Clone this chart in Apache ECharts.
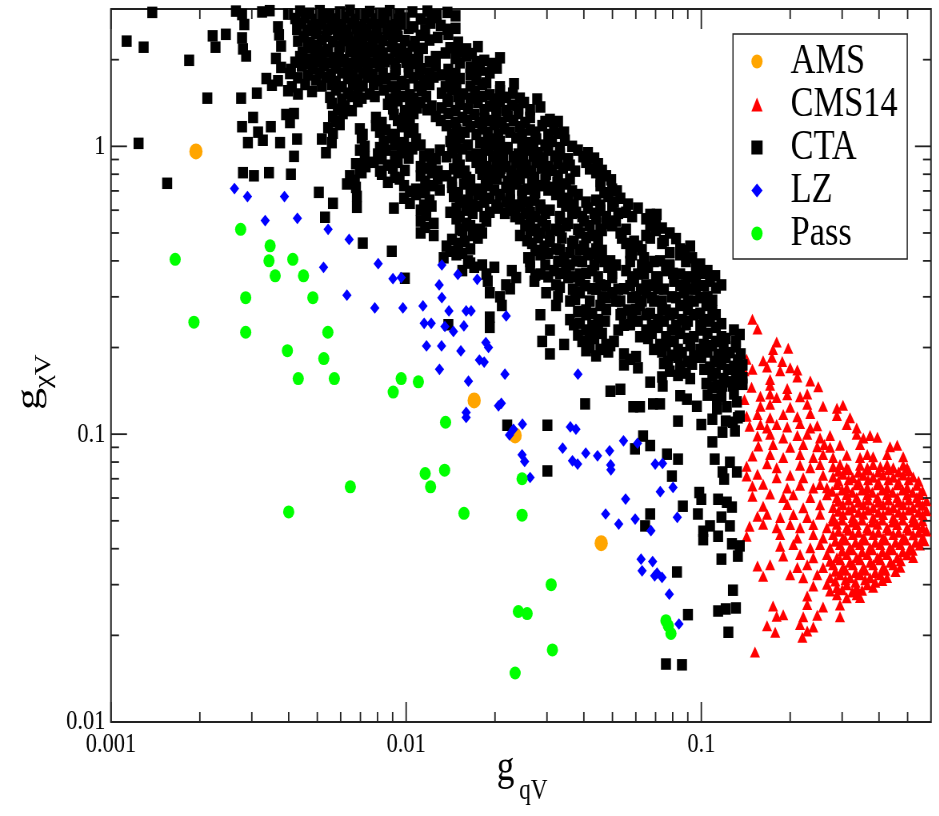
<!DOCTYPE html>
<html>
<head>
<meta charset="utf-8">
<script src="https://cdn.jsdelivr.net/npm/echarts@6/dist/echarts.min.js"></script>
<style>
  html, body { margin: 0; padding: 0; background: #fff; overflow: hidden; }
  #wrap { width: 939px; height: 816px; overflow: hidden; }
  /* the figure is laid out wide and condensed horizontally, like the exported plot */
  #chart { width: 1174px; height: 816px; transform: scaleX(0.8); transform-origin: 0 0; }
</style>
</head>
<body>
<div id="wrap"><div id="chart"></div></div>
<script>
// ---- axis ranges and ticks ---------------------------------------------
const xRange = [0.001, 0.6];
const yRange = [0.01, 3];
const xMajor = [0.001, 0.01, 0.1];
const xMinor = [0.002, 0.003, 0.004, 0.005, 0.006, 0.007, 0.008, 0.009,
                0.02, 0.03, 0.04, 0.05, 0.06, 0.07, 0.08, 0.09,
                0.2, 0.3, 0.4, 0.5];
const xTickLabels = ['0.001', '0.01', '0.1'];
const yMajor = [0.01, 0.1, 1];
const yMinor = [0.02, 0.03, 0.04, 0.05, 0.06, 0.07, 0.08, 0.09,
                0.2, 0.3, 0.4, 0.5, 0.6, 0.7, 0.8, 0.9, 2];
const yTickLabels = ['0.01', '0.1', '1'];

// ---- scan points: [g_qV, g_chiV] --------------------------------------
const amsPts = [[0.00194, 0.96], [0.017, 0.131], [0.0234, 0.099], [0.0458, 0.0418]];

const passPts = [
  [0.00275, 0.515], [0.00346, 0.451], [0.00165, 0.405], [0.00343, 0.400], [0.00413, 0.405],
  [0.0036, 0.355], [0.00449, 0.355], [0.00286, 0.298], [0.00483, 0.298], [0.00191, 0.245],
  [0.00286, 0.226], [0.00543, 0.226], [0.00396, 0.195], [0.00526, 0.183], [0.00431, 0.156],
  [0.00571, 0.156], [0.00962, 0.156], [0.011, 0.152], [0.00904, 0.14], [0.0136, 0.11],
  [0.0116, 0.073], [0.0135, 0.075], [0.0121, 0.0656], [0.00647, 0.0656], [0.004, 0.0537],
  [0.0157, 0.0531], [0.0247, 0.07], [0.0247, 0.0523], [0.031, 0.03], [0.024, 0.0242],
  [0.0257, 0.0238], [0.0313, 0.0178], [0.0234, 0.0148], [0.0759, 0.0225], [0.0773, 0.0216],
  [0.0789, 0.0203]
];

const lzPts = [
  [0.00262, 0.713], [0.0029, 0.669], [0.00387, 0.669], [0.00333, 0.552], [0.00428, 0.562],
  [0.00544, 0.515], [0.00641, 0.475], [0.00525, 0.38], [0.00804, 0.391], [0.00902, 0.347],
  [0.00962, 0.35], [0.01321, 0.387], [0.01497, 0.359], [0.01741, 0.345], [0.01294, 0.33],
  [0.0063, 0.304], [0.01321, 0.298], [0.00783, 0.2745], [0.00975, 0.2745], [0.0114, 0.279],
  [0.01396, 0.268], [0.01597, 0.268], [0.0166, 0.268], [0.01151, 0.2428], [0.01216, 0.2428],
  [0.01353, 0.2366], [0.01446, 0.2274], [0.01569, 0.2377], [0.02183, 0.2575], [0.01172, 0.2026],
  [0.01318, 0.2026], [0.01532, 0.1946], [0.01862, 0.2081], [0.01901, 0.2], [0.01771, 0.181],
  [0.01838, 0.178], [0.01297, 0.168], [0.01626, 0.1528], [0.02161, 0.1616], [0.02055, 0.1254],
  [0.02101, 0.128], [0.01597, 0.119], [0.01597, 0.1143], [0.02239, 0.0994], [0.0231, 0.104],
  [0.0382, 0.1616], [0.02477, 0.1083], [0.036, 0.106], [0.03761, 0.104], [0.0339, 0.0894],
  [0.0247, 0.0848], [0.0252, 0.0804], [0.0366, 0.0808], [0.0381, 0.0787], [0.0406, 0.0859],
  [0.0445, 0.0841], [0.0489, 0.0875], [0.0493, 0.0782], [0.0494, 0.0752], [0.0545, 0.0948],
  [0.0608, 0.093], [0.0263, 0.0707], [0.0698, 0.0787], [0.0739, 0.0791], [0.0726, 0.0631],
  [0.0802, 0.0653], [0.0554, 0.0595], [0.0474, 0.0528], [0.0525, 0.0487], [0.0597, 0.0507],
  [0.0675, 0.0462], [0.0829, 0.0514], [0.0625, 0.0368], [0.0684, 0.0361], [0.063, 0.0335],
  [0.0708, 0.0329], [0.0736, 0.0318], [0.0779, 0.0278], [0.084, 0.0219], [0.0695, 0.0322]
];

const ctaPts = [
  // dense core, top of the frame
  [0.00138, 2.92], [0.00265, 2.95], [0.00278, 2.87], [0.00325, 2.93], [0.00345, 2.96], [0.00398, 2.88],
  [0.00437, 2.95], [0.0047, 2.9], [0.0051, 2.96], [0.0055, 2.87], [0.00596, 2.93], [0.00645, 2.97],
  [0.00697, 2.88], [0.00753, 2.94], [0.00815, 2.9], [0.0088, 2.96], [0.0095, 2.87], [0.0105, 2.93],
  [0.0118, 2.95], [0.0127, 2.86], [0.0138, 2.92], [0.0147, 2.84],
  [0.00421, 2.78], [0.00455, 2.8], [0.00492, 2.76], [0.00531, 2.79], [0.00574, 2.77], [0.0062, 2.8],
  [0.0067, 2.76], [0.00724, 2.79], [0.00783, 2.77], [0.00846, 2.8], [0.00916, 2.76], [0.0099, 2.79],
  [0.0112, 2.77], [0.0122, 2.8],
  [0.00283, 2.65], [0.00368, 2.6], [0.00443, 2.68], [0.0048, 2.62], [0.00518, 2.66], [0.0056, 2.7],
  [0.00606, 2.63], [0.00655, 2.67], [0.00707, 2.6], [0.00765, 2.66], [0.00827, 2.7], [0.00894, 2.62],
  [0.00966, 2.66], [0.0106, 2.6], [0.0121, 2.68], [0.0131, 2.63], [0.0147, 2.57],
  [0.00427, 2.55], [0.00462, 2.53], [0.00499, 2.57], [0.0054, 2.54], [0.00583, 2.56], [0.0063, 2.53],
  [0.00681, 2.57], [0.00735, 2.55], [0.00796, 2.53], [0.0086, 2.56], [0.0093, 2.54], [0.0102, 2.57],
  [0.0116, 2.54], [0.0138, 2.55],
  [0.00221, 2.42], [0.00245, 2.45], [0.00278, 2.38], [0.00371, 2.44], [0.0045, 2.4], [0.00495, 2.46],
  [0.00535, 2.41], [0.00587, 2.44], [0.00635, 2.39], [0.00686, 2.45], [0.00741, 2.42], [0.00802, 2.38],
  [0.00867, 2.45], [0.00937, 2.41], [0.0112, 2.43], [0.0128, 2.39], [0.0139, 2.45],
  [0.0043, 2.32], [0.00472, 2.3], [0.00518, 2.34], [0.00565, 2.31], [0.0061, 2.33], [0.0066, 2.3],
  [0.00713, 2.34], [0.00771, 2.31], [0.00834, 2.33], [0.00902, 2.3], [0.0099, 2.33], [0.0107, 2.31],
  [0.012, 2.34], [0.015, 2.3],
  [0.00113, 2.32], [0.00129, 2.21],
  [0.00226, 2.21], [0.0028, 2.18], [0.00377, 2.23], [0.00465, 2.2], [0.00502, 2.24], [0.00544, 2.17],
  [0.00596, 2.22], [0.00645, 2.19], [0.00697, 2.24], [0.00753, 2.2], [0.00815, 2.16], [0.00894, 2.22],
  [0.00966, 2.18], [0.0105, 2.23], [0.0114, 2.19], [0.0141, 2.2], [0.016, 2.18], [0.0175, 2.22],
  [0.00446, 2.12], [0.00492, 2.1], [0.0054, 2.13], [0.00592, 2.11], [0.0065, 2.13], [0.00702, 2.1],
  [0.00759, 2.13], [0.00834, 2.11], [0.00916, 2.13], [0.0101, 2.1], [0.011, 2.12], [0.0136, 2.11],
  [0.0152, 2.13], [0.0167, 2.1],
  [0.00184, 1.99],
  [0.00287, 2.06], [0.00362, 2.02], [0.00437, 2.05], [0.0048, 2.01], [0.00518, 2.06], [0.0057, 2.03],
  [0.00615, 2.0], [0.00676, 2.05], [0.00729, 2.02], [0.00802, 2.07], [0.0088, 2.01], [0.0095, 2.04],
  [0.0105, 2.0], [0.0126, 2.05], [0.0147, 2.02], [0.016, 2.06], [0.0184, 1.99], [0.0208, 2.03],
  [0.00421, 1.96], [0.00459, 1.94], [0.00502, 1.97], [0.00548, 1.95], [0.00596, 1.97], [0.0065, 1.94],
  [0.00707, 1.97], [0.00771, 1.95], [0.00846, 1.97], [0.00916, 1.94], [0.01, 1.96], [0.011, 1.94],
  [0.012, 1.97], [0.0152, 1.95], [0.0173, 1.97], [0.0195, 1.94],
  [0.00377, 1.88], [0.00407, 1.85], [0.00443, 1.9], [0.00483, 1.86], [0.00527, 1.91], [0.00578, 1.87],
  [0.00635, 1.84], [0.00686, 1.89], [0.00741, 1.86], [0.00815, 1.9], [0.00923, 1.85], [0.0102, 1.89],
  [0.0112, 1.86], [0.0126, 1.9], [0.0139, 1.85], [0.0165, 1.88], [0.0178, 1.84], [0.0203, 1.87],
  [0.00404, 1.79], [0.00465, 1.77], [0.0051, 1.8], [0.00556, 1.78], [0.00606, 1.8], [0.0066, 1.77],
  [0.00713, 1.8], [0.00771, 1.78], [0.00834, 1.8], [0.00916, 1.77], [0.0102, 1.8], [0.0111, 1.78],
  [0.012, 1.8], [0.0132, 1.77], [0.0147, 1.79], [0.0165, 1.78], [0.0192, 1.8],
  [0.00336, 1.72], [0.00368, 1.69], [0.0043, 1.73], [0.00495, 1.7], [0.00535, 1.74], [0.00578, 1.68],
  [0.00635, 1.72], [0.00686, 1.7], [0.00741, 1.74], [0.00802, 1.69], [0.00853, 1.72], [0.00966, 1.68],
  [0.0106, 1.73], [0.0115, 1.7], [0.0124, 1.74], [0.0141, 1.69], [0.0152, 1.72], [0.0173, 1.7],
  [0.0187, 1.66], [0.0232, 1.65],
  [0.00351, 1.63], [0.0041, 1.61], [0.00455, 1.64], [0.00518, 1.62], [0.0056, 1.64], [0.00606, 1.61],
  [0.0066, 1.64], [0.00713, 1.62], [0.00777, 1.64], [0.00894, 1.61], [0.0099, 1.64], [0.011, 1.62],
  [0.012, 1.64], [0.0136, 1.61], [0.0148, 1.63], [0.0165, 1.62], [0.0181, 1.64], [0.0208, 1.61],
  [0.00212, 1.47], [0.00276, 1.47], [0.00312, 1.53], [0.00398, 1.56], [0.0043, 1.52], [0.0048, 1.55],
  [0.00578, 1.57], [0.00635, 1.53], [0.00686, 1.56], [0.00753, 1.52], [0.0084, 1.57], [0.00923, 1.54],
  [0.0103, 1.51], [0.0113, 1.56], [0.0132, 1.53], [0.0143, 1.57], [0.0156, 1.52], [0.0171, 1.55],
  [0.0192, 1.51], [0.0208, 1.56], [0.023, 1.53], [0.0278, 1.46],
  [0.00552, 1.48], [0.00606, 1.46], [0.00655, 1.49], [0.00707, 1.47], [0.00783, 1.49], [0.0088, 1.46],
  [0.00966, 1.49], [0.0106, 1.47], [0.0117, 1.49], [0.0138, 1.46], [0.015, 1.49], [0.0165, 1.47],
  [0.0181, 1.49], [0.0199, 1.46], [0.0218, 1.48], [0.0243, 1.47],
  [0.0056, 1.41], [0.0062, 1.38], [0.00686, 1.43], [0.00867, 1.4], [0.00937, 1.44], [0.0103, 1.39],
  [0.0112, 1.42], [0.0122, 1.38], [0.0139, 1.43], [0.0152, 1.4], [0.0175, 1.42], [0.0192, 1.38],
  [0.0208, 1.43], [0.0228, 1.39], [0.0251, 1.42], [0.0285, 1.37],
  [0.00587, 1.345], [0.00655, 1.33], [0.00902, 1.35], [0.0099, 1.33], [0.0109, 1.36], [0.0118, 1.34],
  [0.0132, 1.36], [0.0147, 1.33], [0.0162, 1.35], [0.0184, 1.34], [0.0202, 1.36], [0.0218, 1.33],
  [0.024, 1.35], [0.0263, 1.34],
  [0.00303, 1.26], [0.00392, 1.29], [0.00417, 1.3], [0.00565, 1.27], [0.0061, 1.3], [0.0079, 1.26],
  [0.00909, 1.29], [0.00984, 1.25], [0.0106, 1.3], [0.0126, 1.27], [0.0139, 1.3], [0.0155, 1.26],
  [0.017, 1.29], [0.0184, 1.25], [0.0202, 1.3], [0.0221, 1.27], [0.024, 1.3], [0.0263, 1.26],
  [0.0307, 1.24], [0.0327, 1.22],
  [0.00578, 1.22], [0.00827, 1.21], [0.00937, 1.23], [0.0103, 1.21], [0.0131, 1.23], [0.0147, 1.21],
  [0.0161, 1.23], [0.0177, 1.21], [0.0192, 1.23], [0.0211, 1.21], [0.0231, 1.23], [0.0253, 1.21],
  [0.0296, 1.22],
  [0.00278, 1.17], [0.00315, 1.12], [0.00348, 1.17], [0.00404, 1.21], [0.00544, 1.16], [0.00596, 1.19],
  [0.00697, 1.15], [0.0079, 1.18], [0.00853, 1.14], [0.00966, 1.17], [0.0106, 1.15], [0.0137, 1.18],
  [0.0148, 1.14], [0.0165, 1.17], [0.0181, 1.15], [0.0199, 1.19], [0.0215, 1.15], [0.0243, 1.17],
  [0.0263, 1.14], [0.0289, 1.18], [0.0317, 1.14], [0.0343, 1.12],
  [0.00565, 1.11], [0.00713, 1.1], [0.00815, 1.12], [0.00916, 1.1], [0.0102, 1.12], [0.0143, 1.1],
  [0.0158, 1.12], [0.0173, 1.1], [0.0189, 1.12], [0.0205, 1.1], [0.0225, 1.12], [0.0247, 1.1],
  [0.0274, 1.12], [0.0303, 1.1], [0.0327, 1.11],
  [0.00124, 1.024], [0.00291, 1.03], [0.00327, 1.05], [0.00374, 1.03], [0.00427, 1.06], [0.00518, 1.06],
  [0.0056, 1.03], [0.00707, 1.07], [0.0084, 1.04], [0.00894, 1.07], [0.00984, 1.03], [0.0108, 1.06],
  [0.0141, 1.04], [0.0152, 1.07], [0.0178, 1.03], [0.0192, 1.06], [0.0208, 1.04], [0.0236, 1.07],
  [0.0259, 1.03], [0.0276, 1.06], [0.0312, 1.04], [0.0345, 1.05],
  [0.00724, 1.0], [0.00815, 0.99], [0.00916, 1.01], [0.0102, 0.99], [0.0112, 1.01], [0.0147, 0.99],
  [0.0162, 1.01], [0.0186, 0.99], [0.0199, 1.01], [0.0221, 0.99], [0.0247, 1.01], [0.027, 0.99],
  [0.0296, 1.01], [0.0332, 0.99], [0.0365, 1.0],
  // upper band
  [0.00417, 0.923], [0.00535, 0.95], [0.00697, 0.97], [0.00802, 0.94], [0.00853, 0.97], [0.00966, 0.95],
  [0.0105, 0.98], [0.012, 0.94], [0.013, 0.97], [0.0143, 0.95], [0.0155, 0.98], [0.0173, 0.94],
  [0.0189, 0.97], [0.0205, 0.95], [0.0218, 0.98], [0.024, 0.94], [0.0259, 0.97], [0.028, 0.95],
  [0.0303, 0.97], [0.0332, 0.94], [0.0382, 0.97], [0.0413, 0.95],
  [0.00724, 0.916], [0.00827, 0.905], [0.00916, 0.925], [0.0102, 0.91], [0.0115, 0.925], [0.0126, 0.905],
  [0.0137, 0.92], [0.0149, 0.905], [0.0165, 0.925], [0.0181, 0.91], [0.0197, 0.925], [0.0213, 0.905],
  [0.0231, 0.92], [0.0249, 0.905], [0.027, 0.925], [0.0292, 0.91], [0.0319, 0.925], [0.0354, 0.905],
  [0.0398, 0.92], [0.0434, 0.91],
  [0.00676, 0.87], [0.00729, 0.85], [0.00777, 0.88], [0.00867, 0.86], [0.00937, 0.88], [0.0112, 0.85],
  [0.0122, 0.88], [0.0152, 0.86], [0.0173, 0.88], [0.0187, 0.85], [0.0202, 0.87], [0.0218, 0.85],
  [0.0236, 0.88], [0.0255, 0.86], [0.0276, 0.88], [0.0303, 0.85], [0.0327, 0.87], [0.0359, 0.86],
  [0.0407, 0.88], [0.0447, 0.87],
  [0.00697, 0.832], [0.00815, 0.82], [0.00902, 0.84], [0.0099, 0.825], [0.0117, 0.84], [0.0128, 0.82],
  [0.0145, 0.835], [0.0158, 0.82], [0.0178, 0.84], [0.0194, 0.825], [0.0209, 0.84], [0.0227, 0.82],
  [0.0245, 0.835], [0.0265, 0.82], [0.0287, 0.84], [0.0312, 0.825], [0.034, 0.84], [0.0374, 0.82],
  [0.0419, 0.835], [0.0461, 0.825],
  [0.0028, 0.81], [0.00305, 0.79], [0.00343, 0.81], [0.00407, 0.8], [0.00645, 0.79], [0.00707, 0.81],
  [0.00827, 0.8], [0.00916, 0.78], [0.0112, 0.79], [0.0122, 0.81], [0.0137, 0.79], [0.015, 0.81],
  [0.016, 0.78], [0.0181, 0.8], [0.0195, 0.78], [0.0208, 0.81], [0.0228, 0.79], [0.0251, 0.81],
  [0.0272, 0.78], [0.0298, 0.8], [0.0327, 0.79], [0.044, 0.81], [0.0476, 0.79],
  [0.0067, 0.762], [0.00867, 0.75], [0.0095, 0.77], [0.0116, 0.755], [0.0128, 0.77], [0.0143, 0.75],
  [0.0165, 0.765], [0.0186, 0.75], [0.0203, 0.77], [0.0221, 0.755], [0.0243, 0.77], [0.0267, 0.75],
  [0.0296, 0.765], [0.0325, 0.75], [0.0359, 0.77], [0.0455, 0.755], [0.0495, 0.765],
  [0.00155, 0.744], [0.0063, 0.74], [0.00676, 0.72], [0.00984, 0.73], [0.0108, 0.71], [0.0124, 0.73],
  [0.0143, 0.72], [0.0157, 0.74], [0.0173, 0.71], [0.0189, 0.73], [0.0218, 0.72], [0.0236, 0.74],
  [0.0259, 0.71], [0.0285, 0.73], [0.0317, 0.72], [0.0348, 0.74], [0.0455, 0.73], [0.0499, 0.71],
  [0.0103, 0.698], [0.0116, 0.69], [0.013, 0.705], [0.015, 0.69], [0.0165, 0.705], [0.0181, 0.69],
  [0.0199, 0.705], [0.0225, 0.69], [0.0247, 0.705], [0.0274, 0.69], [0.0303, 0.705], [0.0332, 0.69],
  [0.0365, 0.7], [0.0469, 0.69], [0.0518, 0.7],
  [0.00506, 0.692], [0.00565, 0.634], [0.00681, 0.67], [0.00984, 0.66], [0.0108, 0.68], [0.012, 0.65],
  [0.0145, 0.67], [0.0162, 0.65], [0.0175, 0.68], [0.0192, 0.66], [0.0208, 0.68], [0.0225, 0.65],
  [0.0247, 0.67], [0.0272, 0.65], [0.0322, 0.68], [0.0354, 0.66], [0.0382, 0.68], [0.044, 0.65],
  [0.0484, 0.67], [0.0532, 0.66],
  [0.0103, 0.634], [0.0115, 0.625], [0.0152, 0.64], [0.0168, 0.625], [0.0184, 0.64], [0.0202, 0.625],
  [0.0218, 0.64], [0.0236, 0.625], [0.0259, 0.64], [0.0285, 0.625], [0.0337, 0.64], [0.037, 0.625],
  [0.0407, 0.64], [0.0455, 0.625], [0.0506, 0.64], [0.0565, 0.63],
  [0.00681, 0.614], [0.00909, 0.61], [0.0112, 0.6], [0.0122, 0.62], [0.0141, 0.59], [0.0148, 0.61],
  [0.016, 0.6], [0.0175, 0.62], [0.0192, 0.59], [0.0205, 0.61], [0.0225, 0.6], [0.0243, 0.62],
  [0.0263, 0.59], [0.0285, 0.61], [0.0307, 0.6], [0.0348, 0.62], [0.0377, 0.59], [0.0413, 0.61],
  [0.0455, 0.6], [0.0499, 0.62], [0.0556, 0.59], [0.061, 0.61], [0.0706, 0.58],
  [0.0117, 0.576], [0.0152, 0.57], [0.0168, 0.585], [0.0184, 0.57], [0.0216, 0.585], [0.0234, 0.57],
  [0.0253, 0.585], [0.0274, 0.57], [0.0296, 0.585], [0.0332, 0.57], [0.0365, 0.585], [0.0395, 0.57],
  [0.0434, 0.585], [0.0476, 0.57], [0.0523, 0.585], [0.0583, 0.57], [0.0671, 0.58],
  [0.00531, 0.567], [0.0112, 0.55], [0.0124, 0.54], [0.0148, 0.56], [0.016, 0.54], [0.0187, 0.55],
  [0.0243, 0.56], [0.0263, 0.54], [0.0289, 0.55], [0.0332, 0.56], [0.0354, 0.54], [0.0401, 0.55],
  [0.044, 0.56], [0.0476, 0.54], [0.0514, 0.55], [0.065, 0.56], [0.0702, 0.54],
  [0.0116, 0.523], [0.0152, 0.515], [0.0165, 0.53], [0.0178, 0.515], [0.0253, 0.53], [0.0274, 0.515],
  [0.0298, 0.53], [0.0322, 0.515], [0.0348, 0.53], [0.0382, 0.515], [0.0419, 0.53], [0.0455, 0.515],
  [0.0499, 0.53], [0.0556, 0.515], [0.0671, 0.53], [0.0736, 0.52],
  [0.0112, 0.5], [0.0124, 0.49], [0.0155, 0.51], [0.0168, 0.49], [0.0181, 0.5], [0.0243, 0.49],
  [0.0263, 0.51], [0.0285, 0.5], [0.0307, 0.49], [0.0332, 0.51], [0.0388, 0.5], [0.0427, 0.49],
  [0.0461, 0.51], [0.0532, 0.5], [0.065, 0.49], [0.0702, 0.51], [0.0782, 0.5],
  [0.0143, 0.475], [0.0158, 0.468], [0.0175, 0.48], [0.0257, 0.47], [0.028, 0.482], [0.0307, 0.468],
  [0.0337, 0.48], [0.037, 0.468], [0.0407, 0.482], [0.0447, 0.47], [0.0538, 0.48], [0.0592, 0.468],
  [0.0671, 0.48], [0.0747, 0.47], [0.0821, 0.478],
  [0.00713, 0.461], [0.00894, 0.432], [0.0137, 0.45], [0.015, 0.46], [0.0165, 0.44], [0.0267, 0.46],
  [0.0294, 0.45], [0.0322, 0.44], [0.0365, 0.46], [0.0401, 0.45], [0.044, 0.44], [0.0556, 0.46],
  [0.061, 0.45], [0.0736, 0.46], [0.0848, 0.44], [0.0917, 0.45],
  [0.0141, 0.432], [0.0155, 0.425], [0.0274, 0.435], [0.0303, 0.425], [0.0332, 0.437], [0.0359, 0.427],
  [0.0388, 0.437], [0.0419, 0.425], [0.0461, 0.435], [0.0574, 0.427], [0.0629, 0.437], [0.0782, 0.427],
  [0.088, 0.435],
  // middle band
  [0.0134, 0.41], [0.0148, 0.42], [0.0162, 0.4], [0.0259, 0.41], [0.0285, 0.42], [0.0343, 0.41],
  [0.0377, 0.4], [0.0413, 0.42], [0.0447, 0.41], [0.0492, 0.4], [0.0583, 0.42], [0.064, 0.41],
  [0.0725, 0.4], [0.0848, 0.42], [0.0931, 0.41],
  [0.0165, 0.393], [0.0181, 0.387], [0.0263, 0.398], [0.0296, 0.387], [0.0327, 0.398], [0.0359, 0.387],
  [0.0395, 0.398], [0.0434, 0.387], [0.0469, 0.398], [0.0514, 0.387], [0.0574, 0.398], [0.0629, 0.387],
  [0.0691, 0.398], [0.0782, 0.387], [0.0887, 0.398], [0.0992, 0.39],
  [0.0155, 0.37], [0.017, 0.38], [0.0187, 0.36], [0.0199, 0.38], [0.0228, 0.37], [0.0263, 0.38],
  [0.0285, 0.36], [0.0317, 0.37], [0.0348, 0.38], [0.0388, 0.36], [0.0427, 0.37], [0.0484, 0.38],
  [0.0556, 0.37], [0.061, 0.36], [0.066, 0.38], [0.0759, 0.37], [0.0848, 0.36], [0.0959, 0.38],
  [0.105, 0.37],
  [0.0274, 0.357], [0.0303, 0.352], [0.0332, 0.362], [0.0365, 0.352], [0.0407, 0.362], [0.0447, 0.352],
  [0.0499, 0.362], [0.0583, 0.352], [0.064, 0.362], [0.0702, 0.352], [0.0802, 0.362], [0.0901, 0.352],
  [0.1008, 0.362], [0.1115, 0.355],
  [0.0099, 0.348], [0.0189, 0.34], [0.0218, 0.33], [0.0236, 0.35], [0.0272, 0.34], [0.0322, 0.33],
  [0.0354, 0.35], [0.0388, 0.34], [0.0455, 0.33], [0.0499, 0.35], [0.0592, 0.34], [0.065, 0.33],
  [0.0713, 0.35], [0.0808, 0.34], [0.0887, 0.33], [0.0959, 0.35], [0.107, 0.34], [0.117, 0.33],
  [0.0332, 0.324], [0.0367, 0.319], [0.0404, 0.328], [0.044, 0.319], [0.0476, 0.328], [0.0523, 0.319],
  [0.0574, 0.328], [0.0624, 0.319], [0.068, 0.328], [0.0747, 0.319], [0.0848, 0.328], [0.0931, 0.319],
  [0.1023, 0.328], [0.112, 0.322],
  [0.0192, 0.31], [0.0208, 0.3], [0.0225, 0.32], [0.0298, 0.31], [0.0327, 0.3], [0.0388, 0.31],
  [0.0427, 0.32], [0.0461, 0.3], [0.0499, 0.31], [0.0547, 0.32], [0.0601, 0.3], [0.065, 0.31],
  [0.0713, 0.32], [0.0795, 0.3], [0.0873, 0.31], [0.0959, 0.32], [0.105, 0.3],
  [0.0374, 0.294], [0.0419, 0.29], [0.0476, 0.298], [0.0532, 0.29], [0.0583, 0.298], [0.0629, 0.29],
  [0.068, 0.298], [0.0736, 0.29], [0.0821, 0.298], [0.0901, 0.29], [0.0992, 0.298], [0.109, 0.292],
  [0.0211, 0.28], [0.0322, 0.28], [0.0359, 0.29], [0.0407, 0.27], [0.0455, 0.28], [0.0514, 0.29],
  [0.0565, 0.27], [0.062, 0.28], [0.0691, 0.29], [0.0759, 0.27], [0.0848, 0.28], [0.0944, 0.29],
  [0.104, 0.28],
  [0.0382, 0.267], [0.0427, 0.263], [0.0476, 0.271], [0.0538, 0.263], [0.0601, 0.271], [0.0671, 0.263],
  [0.0736, 0.271], [0.0808, 0.263], [0.0901, 0.271], [0.0992, 0.263], [0.109, 0.268],
  [0.0192, 0.255], [0.0285, 0.26], [0.0359, 0.25], [0.0407, 0.26], [0.0447, 0.25], [0.0532, 0.26],
  [0.0583, 0.25], [0.065, 0.26], [0.0713, 0.25], [0.0782, 0.26], [0.086, 0.25], [0.0944, 0.26],
  [0.102, 0.25], [0.112, 0.26], [0.0139, 0.24],
  [0.0388, 0.243], [0.0427, 0.239], [0.0472, 0.247], [0.0547, 0.239], [0.061, 0.247], [0.068, 0.239],
  [0.0747, 0.247], [0.0821, 0.239], [0.0901, 0.247], [0.0992, 0.239], [0.107, 0.247], [0.117, 0.242],
  [0.0192, 0.235], [0.0307, 0.23], [0.037, 0.24], [0.0407, 0.23], [0.0447, 0.235], [0.0523, 0.23],
  [0.0574, 0.24], [0.065, 0.23], [0.0713, 0.235], [0.0795, 0.23], [0.0887, 0.24], [0.1, 0.23],
  [0.112, 0.235], [0.129, 0.23],
  [0.0382, 0.221], [0.0419, 0.218], [0.0461, 0.224], [0.062, 0.218], [0.068, 0.224], [0.0759, 0.218],
  [0.0848, 0.224], [0.0944, 0.218], [0.105, 0.224], [0.117, 0.218], [0.135, 0.222],
  [0.0289, 0.21], [0.0343, 0.205], [0.0395, 0.21], [0.0434, 0.215], [0.0476, 0.205], [0.0506, 0.21],
  [0.066, 0.215], [0.0725, 0.205], [0.0808, 0.21], [0.0901, 0.215], [0.102, 0.205], [0.112, 0.21],
  [0.121, 0.215], [0.131, 0.21],
  [0.0419, 0.2], [0.0455, 0.197], [0.0492, 0.203], [0.0691, 0.197], [0.0759, 0.203], [0.0834, 0.197],
  [0.0917, 0.203], [0.0992, 0.197], [0.109, 0.203], [0.119, 0.197], [0.131, 0.201],
  [0.0307, 0.19], [0.0407, 0.195], [0.044, 0.187], [0.0484, 0.193], [0.0547, 0.19], [0.0601, 0.186],
  [0.0736, 0.193], [0.0795, 0.188], [0.086, 0.192], [0.0944, 0.187], [0.105, 0.193], [0.114, 0.189],
  [0.125, 0.192], [0.136, 0.19],
  [0.0574, 0.182], [0.0771, 0.179], [0.0834, 0.185], [0.0901, 0.179], [0.1, 0.185], [0.111, 0.179],
  [0.121, 0.185], [0.133, 0.181],
  [0.0547, 0.174], [0.061, 0.17], [0.0747, 0.176], [0.0848, 0.172], [0.0931, 0.175], [0.107, 0.171],
  [0.117, 0.175], [0.129, 0.172], [0.138, 0.174],
  [0.0782, 0.1655], [0.0887, 0.163], [0.1023, 0.168], [0.112, 0.163], [0.123, 0.168], [0.135, 0.165],
  [0.0671, 0.1516], [0.0736, 0.158], [0.0834, 0.16], [0.0917, 0.156], [0.109, 0.159], [0.119, 0.156],
  [0.131, 0.16], [0.138, 0.157],
  [0.104, 0.15], [0.114, 0.148], [0.125, 0.152], [0.138, 0.149],
  [0.105, 0.1366], [0.117, 0.135], [0.129, 0.138],
  [0.109, 0.1127], [0.121, 0.111], [0.133, 0.114], [0.13, 0.1026],
  // lower tail
  [0.0492, 0.141], [0.0532, 0.1432], [0.074, 0.147], [0.0588, 0.1245], [0.062, 0.1245], [0.0686, 0.1274],
  [0.0725, 0.1274], [0.0848, 0.136], [0.0894, 0.1323], [0.0966, 0.125], [0.0834, 0.111], [0.1, 0.108],
  [0.109, 0.1455], [0.118, 0.147], [0.128, 0.147], [0.113, 0.1323], [0.113, 0.1224], [0.122, 0.1245],
  [0.132, 0.1295], [0.135, 0.1155], [0.128, 0.11], [0.118, 0.1016], [0.109, 0.094], [0.0635, 0.0985],
  [0.0671, 0.0913], [0.0596, 0.0889], [0.0765, 0.0852], [0.0834, 0.0819], [0.111, 0.0819], [0.125, 0.0799],
  [0.118, 0.0739], [0.132, 0.0739], [0.1195, 0.0698], [0.0795, 0.0715], [0.0984, 0.0627], [0.1, 0.0594],
  [0.114, 0.0594], [0.122, 0.058], [0.127, 0.0558], [0.0866, 0.0562], [0.0671, 0.0528], [0.0645, 0.048],
  [0.0974, 0.0528], [0.107, 0.048], [0.1015, 0.046], [0.117, 0.0515], [0.125, 0.048], [0.1015, 0.043],
  [0.114, 0.0442], [0.127, 0.0416], [0.135, 0.0409], [0.133, 0.0377], [0.117, 0.0368], [0.0827, 0.0332],
  [0.128, 0.0287], [0.0901, 0.0236], [0.114, 0.0243], [0.121, 0.0247], [0.131, 0.0249], [0.1235, 0.0205],
  [0.0759, 0.0159], [0.086, 0.0158],
  [0.0301, 0.0745], [0.0404, 0.1274], [0.0301, 0.1074], [0.022, 0.1074]
];

const cms14Pts = [
  [0.149, 0.251], [0.155, 0.232], [0.18, 0.209], [0.175, 0.197], [0.197, 0.199],
  [0.1424, 0.182], [0.162, 0.18], [0.1735, 0.185], [0.188, 0.179],
  [0.149, 0.168], [0.167, 0.171], [0.185, 0.166], [0.2, 0.17], [0.2115, 0.167],
  [0.171, 0.155], [0.2115, 0.158], [0.234, 0.153],
  [0.148, 0.1456], [0.171, 0.148], [0.1955, 0.144], [0.249, 0.146],
  [0.1586, 0.1355], [0.171, 0.138], [0.18, 0.134], [0.1955, 0.137], [0.216, 0.135], [0.2285, 0.138],
  [0.1586, 0.125], [0.171, 0.127], [0.2, 0.124], [0.2285, 0.127], [0.2585, 0.125], [0.288, 0.123], [0.302, 0.126],
  [0.1424, 0.1155], [0.155, 0.117], [0.171, 0.114], [0.1895, 0.117], [0.2115, 0.115], [0.234, 0.118],
  [0.288, 0.116], [0.319, 0.114],
  [0.1457, 0.1066], [0.1586, 0.108], [0.167, 0.105], [0.18, 0.108], [0.1955, 0.106], [0.216, 0.109],
  [0.234, 0.105], [0.247, 0.107], [0.311, 0.108], [0.336, 0.105],
  [0.155, 0.0985], [0.171, 0.1], [0.1895, 0.097], [0.2115, 0.099], [0.2285, 0.1], [0.2525, 0.097],
  [0.273, 0.099], [0.336, 0.1], [0.354, 0.097], [0.373, 0.099], [0.395, 0.0975],
  [0.156, 0.0909], [0.175, 0.092], [0.2, 0.09], [0.2215, 0.092], [0.247, 0.0905], [0.261, 0.092],
  [0.273, 0.09], [0.295, 0.0915], [0.345, 0.092], [0.436, 0.0905], [0.461, 0.0915],
  [0.149, 0.0839], [0.171, 0.085], [0.1895, 0.083], [0.216, 0.085], [0.2395, 0.083], [0.2585, 0.085],
  [0.2795, 0.083], [0.311, 0.0845], [0.345, 0.083], [0.365, 0.085], [0.382, 0.0835], [0.426, 0.085],
  [0.483, 0.0835],
  [0.1424, 0.0774], [0.167, 0.079], [0.18, 0.0765], [0.216, 0.078], [0.234, 0.0765], [0.2525, 0.0785],
  [0.2795, 0.077], [0.295, 0.0785], [0.311, 0.0765], [0.345, 0.078], [0.365, 0.0765], [0.382, 0.0785],
  [0.404, 0.077], [0.426, 0.0785], [0.447, 0.0765], [0.483, 0.078], [0.498, 0.0765],
  [0.2915, 0.0744], [0.3155, 0.0752], [0.341, 0.0738], [0.3675, 0.0751], [0.398, 0.0739], [0.4305, 0.0752],
  [0.466, 0.0739], [0.504, 0.0746],
  [0.1424, 0.0715], [0.155, 0.0725], [0.18, 0.0705], [0.2, 0.072], [0.2215, 0.0705], [0.2585, 0.072],
  [0.2795, 0.071], [0.302, 0.0725], [0.326, 0.0705], [0.354, 0.072], [0.382, 0.0708], [0.413, 0.0722],
  [0.447, 0.0708], [0.483, 0.0722], [0.522, 0.071],
  [0.2915, 0.0687], [0.3155, 0.0694], [0.341, 0.0681], [0.3675, 0.0694], [0.398, 0.0681], [0.4305, 0.0694],
  [0.466, 0.0681], [0.504, 0.0694], [0.5445, 0.0686],
  [0.149, 0.066], [0.162, 0.067], [0.1955, 0.065], [0.216, 0.0665], [0.2395, 0.065], [0.2525, 0.0668],
  [0.2665, 0.0652], [0.288, 0.0668], [0.311, 0.0652], [0.336, 0.0667], [0.365, 0.0653], [0.395, 0.0667],
  [0.426, 0.0652], [0.461, 0.0667], [0.498, 0.0653], [0.537, 0.0665],
  [0.2775, 0.0634], [0.3, 0.064], [0.3245, 0.0628], [0.3505, 0.064], [0.3795, 0.0628], [0.4105, 0.064],
  [0.4445, 0.0628], [0.481, 0.064], [0.5198, 0.0628], [0.5615, 0.0636],
  [0.149, 0.0609], [0.171, 0.062], [0.1895, 0.0602], [0.205, 0.0616], [0.234, 0.0602], [0.2665, 0.0616],
  [0.288, 0.0603], [0.311, 0.0617], [0.336, 0.0603], [0.365, 0.0616], [0.395, 0.0602], [0.426, 0.0617],
  [0.461, 0.0603], [0.498, 0.0616], [0.537, 0.0603], [0.55, 0.0617],
  [0.2915, 0.0585], [0.3155, 0.059], [0.341, 0.058], [0.3675, 0.059], [0.398, 0.058], [0.4305, 0.059],
  [0.466, 0.058], [0.504, 0.059], [0.5445, 0.058], [0.5795, 0.0587],
  [0.162, 0.0562], [0.1955, 0.057], [0.2215, 0.0555], [0.2525, 0.0568], [0.2795, 0.0556], [0.302, 0.0569],
  [0.326, 0.0556], [0.354, 0.0569], [0.382, 0.0556], [0.413, 0.0569], [0.447, 0.0556], [0.483, 0.0569],
  [0.522, 0.0556], [0.562, 0.0566],
  [0.2915, 0.054], [0.3155, 0.0545], [0.341, 0.0535], [0.3675, 0.0545], [0.398, 0.0535], [0.4305, 0.0545],
  [0.466, 0.0535], [0.504, 0.0545], [0.5445, 0.0535], [0.5795, 0.0542],
  [0.155, 0.0519], [0.167, 0.0527], [0.185, 0.0513], [0.205, 0.0526], [0.2285, 0.0513], [0.2525, 0.0527],
  [0.2795, 0.0513], [0.302, 0.0526], [0.326, 0.0513], [0.354, 0.0527], [0.382, 0.0513], [0.413, 0.0526],
  [0.447, 0.0513], [0.483, 0.0526], [0.522, 0.0513], [0.562, 0.0525],
  [0.2775, 0.0499], [0.3, 0.0503], [0.3245, 0.0495], [0.3505, 0.0503], [0.3795, 0.0495], [0.4105, 0.0503],
  [0.4445, 0.0495], [0.481, 0.0503], [0.5198, 0.0495], [0.5615, 0.05],
  [0.1457, 0.0479], [0.162, 0.0486], [0.18, 0.0473], [0.2, 0.0485], [0.216, 0.0473], [0.2395, 0.0485],
  [0.2665, 0.0473], [0.288, 0.0486], [0.311, 0.0473], [0.336, 0.0485], [0.365, 0.0473], [0.395, 0.0486],
  [0.426, 0.0473], [0.461, 0.0485], [0.498, 0.0473], [0.537, 0.0485], [0.562, 0.0474],
  [0.2915, 0.046], [0.3155, 0.0464], [0.341, 0.0456], [0.3675, 0.0464], [0.398, 0.0456], [0.4305, 0.0464],
  [0.466, 0.0456], [0.504, 0.0464], [0.5445, 0.0456], [0.5795, 0.0461],
  [0.1424, 0.0442], [0.185, 0.0448], [0.2115, 0.0436], [0.2395, 0.0448], [0.2585, 0.0436], [0.2795, 0.0448],
  [0.302, 0.0436], [0.326, 0.0448], [0.354, 0.0436], [0.382, 0.0448], [0.413, 0.0436], [0.447, 0.0448],
  [0.483, 0.0436], [0.522, 0.0447], [0.562, 0.0437],
  [0.2845, 0.0425], [0.308, 0.0429], [0.333, 0.0421], [0.359, 0.0429], [0.3885, 0.0421], [0.4205, 0.0429],
  [0.455, 0.0421], [0.4925, 0.0429], [0.532, 0.0421], [0.57, 0.0426],
  [0.185, 0.0408], [0.205, 0.0414], [0.234, 0.0403], [0.2525, 0.0414], [0.273, 0.0403], [0.295, 0.0414],
  [0.319, 0.0403], [0.345, 0.0414], [0.373, 0.0403], [0.404, 0.0414], [0.436, 0.0403], [0.472, 0.0414],
  [0.51, 0.0403], [0.55, 0.0412],
  [0.3, 0.0393], [0.3245, 0.0397], [0.3505, 0.039], [0.3795, 0.0397], [0.4105, 0.039], [0.4445, 0.0397],
  [0.481, 0.039], [0.5198, 0.0395],
  [0.1895, 0.0377], [0.216, 0.0382], [0.2395, 0.0372], [0.2665, 0.0382], [0.288, 0.0372], [0.311, 0.0382],
  [0.336, 0.0372], [0.365, 0.0382], [0.395, 0.0372], [0.426, 0.0382], [0.461, 0.0372], [0.498, 0.0381],
  [0.522, 0.0373],
  [0.273, 0.0362], [0.2955, 0.0366], [0.319, 0.0359], [0.345, 0.0366], [0.3735, 0.0359], [0.404, 0.0366],
  [0.4375, 0.0359], [0.4735, 0.0363],
  [0.155, 0.0348], [0.171, 0.0352], [0.2115, 0.0344], [0.2285, 0.0352], [0.2585, 0.0344], [0.2795, 0.0352],
  [0.302, 0.0344], [0.326, 0.0352], [0.354, 0.0344], [0.382, 0.0352], [0.413, 0.0344], [0.447, 0.0352],
  [0.472, 0.0345],
  [0.2845, 0.0334], [0.308, 0.0337], [0.333, 0.0331], [0.359, 0.0337], [0.3885, 0.0331], [0.4205, 0.0337],
  [0.455, 0.0333],
  [0.162, 0.0321], [0.2, 0.0325], [0.2215, 0.0317], [0.247, 0.0325], [0.273, 0.0317], [0.295, 0.0325],
  [0.319, 0.0317], [0.345, 0.0325], [0.373, 0.0317], [0.404, 0.0325], [0.426, 0.0318],
  [0.2845, 0.0309], [0.308, 0.0312], [0.333, 0.0306], [0.359, 0.0312], [0.3885, 0.0306], [0.4105, 0.031],
  [0.2395, 0.0297], [0.2665, 0.0301], [0.288, 0.0293], [0.311, 0.03], [0.336, 0.0293], [0.365, 0.03],
  [0.382, 0.0294],
  [0.273, 0.0285], [0.3, 0.0288], [0.3245, 0.0283], [0.3505, 0.0287],
  [0.2285, 0.0274], [0.288, 0.0277], [0.311, 0.027], [0.336, 0.0277], [0.345, 0.0271],
  [0.175, 0.0253], [0.2285, 0.0256], [0.2585, 0.0251], [0.295, 0.0255],
  [0.18, 0.0233], [0.1895, 0.0236], [0.2215, 0.0232], [0.247, 0.0235], [0.295, 0.0232],
  [0.167, 0.0216], [0.216, 0.0218], [0.2395, 0.0214],
  [0.178, 0.0205], [0.2285, 0.0207], [0.22, 0.0197], [0.152, 0.0175],
  [0.14, 0.166], [0.14, 0.132]
];

const seriesNames = ['AMS', 'CMS14', 'CTA', 'LZ', 'Pass'];

// ---- layout and styling -------------------------------------------------
const CANVAS_W = 1174, CANVAS_H = 816;
const gridBox = { left: 138.75, right: 10.25, top: 9, bottom: 94 };
const SERIF = "'Liberation Serif', 'Times New Roman', 'DejaVu Serif', serif";
const INK = '#222';
const MAJOR_LEN = 20, MINOR_LEN = 10, TICK_W = 1.8;

function tickLabel(values, labels) {
  return function (v) {
    for (let i = 0; i < values.length; i++) {
      if (Math.abs(Math.log10(v) - Math.log10(values[i])) < 1e-6) return labels[i];
    }
    return '';
  };
}

function logAxis(range, ticks, labels, margin) {
  return {
    type: 'log', logBase: 10, min: range[0], max: range[1],
    axisLine: { show: false, onZero: false },
    axisTick: { show: false },
    axisLabel: {
      show: true, customValues: ticks, formatter: tickLabel(ticks, labels),
      fontFamily: SERIF, fontSize: 28, color: '#000', margin: margin
    },
    splitLine: { show: false },
    minorTick: { show: false },
    minorSplitLine: { show: false }
  };
}

function scatter(name, data, symbol, size, color) {
  return { name: name, type: 'scatter', data: data, symbol: symbol, symbolSize: size,
           itemStyle: { color: color, opacity: 1 }, silent: true };
}

// fresh title elements every time (the graphic component consumes its option objects)
function makeTitleEls() {
  return [
    // x axis title: g_qV
    { type: 'text', x: 621, y: 768, silent: true,
      style: { text: 'g', font: '44px ' + SERIF, fill: '#000', align: 'left', verticalAlign: 'middle' } },
    { type: 'text', x: 649, y: 791, silent: true,
      style: { text: 'qV', font: '29px ' + SERIF, fill: '#000', align: 'left', verticalAlign: 'middle' } },
    // y axis title: g_chiV, reading upwards
    { type: 'group', x: 50, y: 410, rotation: Math.PI / 2, silent: true,
      children: [
        { type: 'text', x: 0, y: -13, style: { text: 'g', font: '44px ' + SERIF, fill: '#000',
          align: 'left', verticalAlign: 'middle' } },
        { type: 'text', x: 22, y: 5, style: { text: 'χV', font: '29px ' + SERIF, fill: '#000',
          align: 'left', verticalAlign: 'middle' } }
      ] }
  ];
}

function frameOption() {
  return {
    animation: false,
    backgroundColor: '#fff',
    grid: { left: gridBox.left, right: gridBox.right, top: gridBox.top, bottom: gridBox.bottom,
            containLabel: false, show: true, borderColor: INK, borderWidth: 2,
            backgroundColor: 'transparent' },
    xAxis: logAxis(xRange, xMajor, xTickLabels, 9),
    yAxis: logAxis(yRange, yMajor, yTickLabels, 7)
  };
}

function fullOption(tickEls) {
  const opt = frameOption();
  opt.legend = {
    data: seriesNames,
    orient: 'vertical',
    left: 916.25, top: 34,
    padding: [6, 12, 4, 23],
    itemWidth: 14, itemHeight: 14, itemGap: 0,
    backgroundColor: '#fff', borderColor: INK, borderWidth: 1.5, borderRadius: 0,
    selectedMode: false,
    textStyle: { fontFamily: SERIF, fontSize: 43, lineHeight: 42, color: '#000',
                 padding: [0, 0, 0, 30] }
  };
  opt.graphic = makeTitleEls().concat(tickEls);
  opt.series = [
    scatter('AMS', amsPts, 'circle', [16.5, 16], '#ffa500'),
    scatter('CMS14', cms14Pts, 'triangle', [12.5, 11], '#ff0000'),
    scatter('CTA', ctaPts, 'rect', [12.5, 11.5], '#000000'),
    scatter('LZ', lzPts, 'diamond', [11.6, 11.7], '#0000ff'),
    scatter('Pass', passPts, 'circle', [14, 13], '#00ff00')
  ];
  return opt;
}

const chart = echarts.init(document.getElementById('chart'), null, { renderer: 'canvas' });

// lay out the frame and the log scales first, so tick positions can be read from them
chart.setOption(frameOption());

const frame = { x0: gridBox.left, x1: CANVAS_W - gridBox.right,
                y0: gridBox.top, y1: CANVAS_H - gridBox.bottom };

// frame position of a value on a log axis spanning the frame edge to edge
function frameLogPos(dim, v) {
  const range = dim === 'x' ? xRange : yRange;
  const t = Math.log10(v / range[0]) / Math.log10(range[1] / range[0]);
  return dim === 'x' ? frame.x0 + t * (frame.x1 - frame.x0) : frame.y1 - t * (frame.y1 - frame.y0);
}

// routes through the chart's own scale, checked on interior decades before use
function pickConverter(dim) {
  const finder = dim === 'x' ? { xAxisIndex: 0 } : { yAxisIndex: 0 };
  let axis = null;
  try { axis = chart.getModel().getComponent(dim === 'x' ? 'xAxis' : 'yAxis', 0).axis; } catch (e) {}
  const raw = [
    function (v) { return chart.convertToPixel(finder, v); },
    function (v) { return axis.toGlobalCoord(axis.dataToCoord(axis.scale.parse(v))); },
    function (v) { return chart.convertToPixel(finder, Math.log10(v)); },
    function (v) { return axis.toGlobalCoord(axis.dataToCoord(Math.log10(v))); }
  ];
  const range = dim === 'x' ? xRange : yRange;
  const a0 = range[0] * 10, b0 = range[0] * 100;
  for (let i = 0; i < raw.length; i++) {
    const f = function (v) {
      try { const p = raw[i](v); return typeof p === 'number' ? p : NaN; } catch (e) { return NaN; }
    };
    const a = f(a0), b = f(b0);
    if (isFinite(a) && isFinite(b) &&
        Math.abs(a - frameLogPos(dim, a0)) < 4 && Math.abs(b - frameLogPos(dim, b0)) < 4) {
      return f;
    }
  }
  return function (v) { return frameLogPos(dim, v); };
}

const tickEls = [];
function tickBar(x, y, w, h) {
  if (![x, y, w, h].every(function (n) { return isFinite(n); })) return;
  tickEls.push({ type: 'rect', silent: true, z: 100,
    shape: { x: x, y: y, width: w, height: h },
    style: { fill: INK } });
}

const toX = pickConverter('x');
xMajor.concat(xMinor).forEach(function (v, i) {
  const len = i < xMajor.length ? MAJOR_LEN : MINOR_LEN;
  const px = toX(v);
  tickBar(px - TICK_W / 2, frame.y1 - len, TICK_W, len);   // bottom edge, pointing up
  tickBar(px - TICK_W / 2, frame.y0, TICK_W, len);         // top edge, pointing down
});
const toY = pickConverter('y');
yMajor.concat(yMinor).forEach(function (v, i) {
  const len = i < yMajor.length ? MAJOR_LEN : MINOR_LEN;
  const py = toY(v);
  tickBar(frame.x0, py - TICK_W / 2, len, TICK_W);         // left edge, pointing right
  tickBar(frame.x1 - len, py - TICK_W / 2, len, TICK_W);   // right edge, pointing left
});

// draw the whole figure in one pass, replacing the layout-only option
chart.setOption(fullOption(tickEls), true);
</script>
</body>
</html>
